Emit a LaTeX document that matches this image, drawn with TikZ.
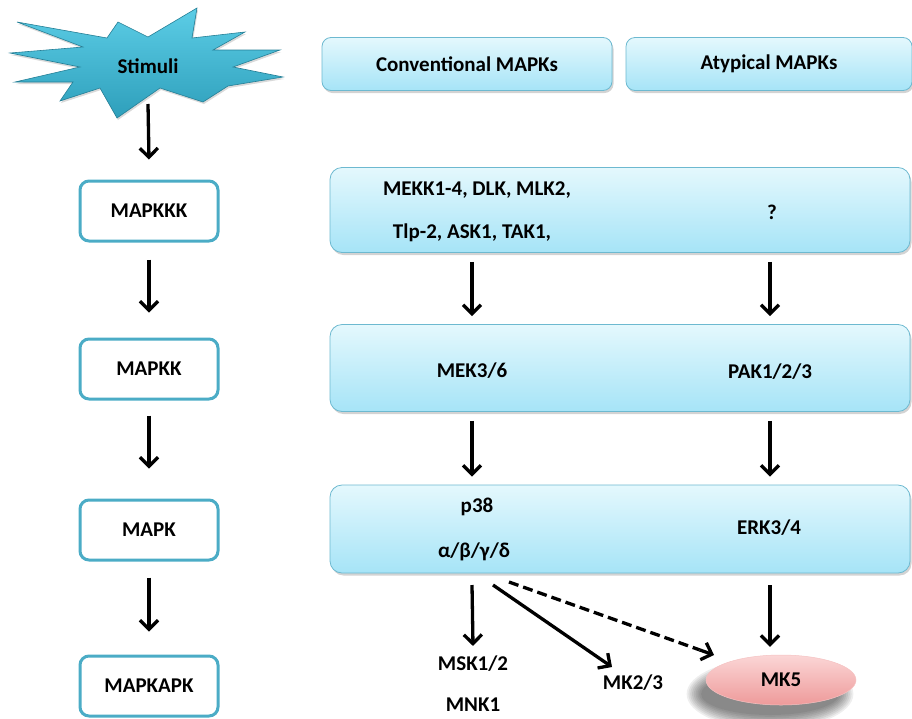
\documentclass[tikz,border=0pt]{standalone}
\usepackage{fontspec}
\setmainfont{Carlito}
\usetikzlibrary{arrows.meta,shadows,calc,shapes.geometric}
\definecolor{boxedge}{HTML}{4BACC6}
\definecolor{bigedge}{HTML}{6DB9D0}
\definecolor{bigtop}{HTML}{E4F8FD}
\definecolor{bigbot}{HTML}{A6E4F7}
\definecolor{startop}{HTML}{5CCDE6}
\definecolor{starbot}{HTML}{2E9FBB}
\definecolor{pinktop}{HTML}{FBD6D6}
\definecolor{pinkbot}{HTML}{EE9A9A}
\tikzset{
  lbl/.style={font=\bfseries\fontsize{21}{23}\selectfont, text=black, inner sep=0pt},
  leftbox/.style={draw=boxedge, line width=3pt, rounded corners=9pt, fill=white,
    minimum width=138pt, minimum height=60pt, lbl},
  bigbox/.style={draw=bigedge, line width=0.8pt, rounded corners=12pt,
    top color=bigtop, bottom color=bigbot,
    drop shadow={shadow xshift=1.5pt, shadow yshift=-2.5pt, opacity=0.35}},
  arr/.style={line width=3.3pt, -{Straight Barb[length=9pt,width=18pt]}},
  dline/.style={line width=3.3pt, dash pattern=on 10pt off 5pt}
}
\begin{document}
\begin{tikzpicture}[x=1pt,y=-1pt]
\useasboundingbox (0,0) rectangle (912,718);
% star
\draw[draw=starbot!80!black, line width=0.6pt, top color=startop, bottom color=starbot,
  drop shadow={shadow xshift=1pt, shadow yshift=-2pt, opacity=0.3}]
  (118,22) -- (148,37) -- (197,8) -- (192,38) -- (245,32) -- (213,50) -- (280,50)
  -- (233,67) -- (283,77) -- (228,86) -- (203,102) -- (160,88) -- (117,118)
  -- (100,88) -- (60,101) -- (73,82) -- (15,82) -- (80,67) -- (10,53) -- (83,47)
  -- (17,22) -- (107,38) -- cycle;
\node[lbl] (stim) at (148,66) {Stimuli};
\coordinate (stimbot) at (148,104);
% left column
\node[leftbox] (mapkkk) at (149,211) {MAPKKK};
\node[leftbox] (mapkk) at (149,369) {MAPKK};
\node[leftbox] (mapk) at (149,530) {MAPK};
\node[leftbox] (mapkapk) at (149,686) {MAPKAPK};
\draw[arr] (stimbot) -- ([yshift=20pt]mapkkk.north);
\draw[arr] ([yshift=-17pt]mapkkk.south) -- ([yshift=25pt]mapkk.north);
\draw[arr] ([yshift=-15pt]mapkk.south) -- ([yshift=30pt]mapk.north);
\draw[arr] ([yshift=-16pt]mapk.south) -- ([yshift=23pt]mapkapk.north);
% headers
\node[bigbox, rounded corners=9pt, minimum width=290pt, minimum height=53pt, lbl] (conv) at (467,64) {Conventional MAPKs};
\node[bigbox, rounded corners=9pt, minimum width=286pt, minimum height=53pt, lbl] (atyp) at (769,64) {Atypical MAPKs};
% big boxes
\node[bigbox, minimum width=580pt, minimum height=85pt] (kkk) at (620,210) {};
\node[bigbox, minimum width=580pt, minimum height=87pt] (kk) at (620,368) {};
\node[bigbox, minimum width=580pt, minimum height=88pt] (k) at (620,529) {};
\node[lbl] (mekk) at (477,190) {MEKK1-4, DLK, MLK2,};
\node[lbl] (tlp) at (472,233) {Tlp-2, ASK1, TAK1,};
\node[lbl] (q) at (772,212) {?};
\node[lbl] (mek) at (472,371) {MEK3/6};
\node[lbl] (pak) at (770,372) {PAK1/2/3};
\node[lbl] (p38) at (477,507) {p38};
\node[lbl] (greek) at (474,552) {α/β/γ/δ};
\node[lbl] (erk) at (769,528) {ERK3/4};
\coordinate (cx) at (472,0);
\coordinate (ax) at (770,0);
\draw[arr] ([yshift=-9pt]kkk.south -| cx) -- ([yshift=8pt]kk.north -| cx);
\draw[arr] ([yshift=-9pt]kkk.south -| ax) -- ([yshift=8pt]kk.north -| ax);
\draw[arr] ([yshift=-9pt]kk.south -| cx) -- ([yshift=8pt]k.north -| cx);
\draw[arr] ([yshift=-9pt]kk.south -| ax) -- ([yshift=8pt]k.north -| ax);
% bottom
\node[lbl] (msk) at (473,664) {MSK1/2};
\node[lbl] (mnk) at (473,705) {MNK1};
\node[lbl] (mk23) at (633,683) {MK2/3};
% blurred shadow of MK5
\foreach \r in {0,...,8}
  \fill[black, opacity=0.065] (770,694) ellipse ({69+\r*1.8} and {21+\r*1.8});
\node[ellipse, minimum width=150pt, minimum height=50pt, draw=pinkbot!60!white, line width=0.5pt,
  top color=pinktop, bottom color=pinkbot, inner sep=0pt, lbl] (mk5) at (781,680) {MK5};
\coordinate (s1) at (472,585);
\coordinate (s2) at (493,585);
\coordinate (s3) at (509,582);
\coordinate (e2) at (612,667);
\coordinate (e3) at (714,655);
\coordinate (m3) at ($(s3)!0.93!(e3)$);
\coordinate (s4) at (770,585);
\draw[arr] (s1) -- ([yshift=10pt]msk.north);
\draw[arr] (s2) -- (e2);
\draw[dline] (s3) -- (m3);
\draw[arr] (m3) -- (e3);
\draw[arr] (s4) -- ([yshift=8pt]mk5.north -| s4);
\end{tikzpicture}
\end{document}
